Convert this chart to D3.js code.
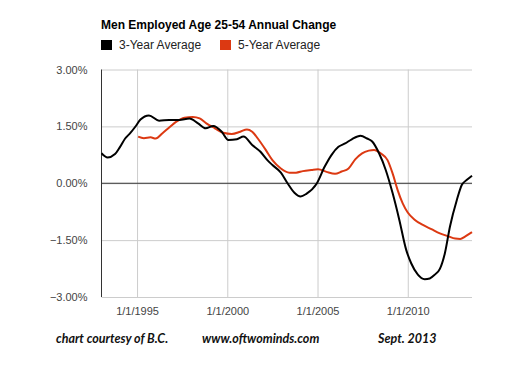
<!DOCTYPE html>
<html>
<head>
<meta charset="utf-8">
<script src="https://cdn.jsdelivr.net/npm/d3@7"></script>
<style>
  body { margin: 0; background: #fff; }
  svg { display: block; }
</style>
</head>
<body>
<div class="main"></div>
<script>
// Chart data (decimal years, % change)
const titleText = 'Men Employed Age 25-54 Annual Change';
const seriesNames = ['3-Year Average', '5-Year Average'];
const seriesColors = ['#000000', '#dc3912'];

const avg3Years = [1993.03, 1993.37, 1993.78, 1994.06, 1994.34, 1994.62, 1994.9, 1995.19, 1995.66, 1996.22,
  1996.78, 1997.34, 1997.9, 1998.38, 1998.8, 1999.22, 1999.69, 2000.06, 2000.53, 2000.9,
  2001.38, 2001.84, 2002.22, 2002.5, 2002.97, 2003.34, 2003.72, 2004.06, 2004.38, 2004.94,
  2005.4, 2005.78, 2006.16, 2006.53, 2006.9, 2007.38, 2007.75, 2008.03, 2008.41, 2008.78,
  2009.16, 2009.53, 2009.91, 2010.19, 2010.56, 2010.94, 2011.22, 2011.5, 2011.78, 2012.06,
  2012.34, 2012.72, 2013.0, 2013.28, 2013.56];
const avg3Values = [0.79, 0.68, 0.77, 0.96, 1.18, 1.32, 1.49, 1.68, 1.79, 1.65,
  1.67, 1.67, 1.71, 1.58, 1.45, 1.51, 1.36, 1.14, 1.16, 1.23,
  1.01, 0.83, 0.61, 0.48, 0.28, 0.0, -0.25, -0.35, -0.28, -0.02,
  0.44, 0.75, 0.96, 1.05, 1.16, 1.25, 1.18, 1.10, 0.79, 0.35,
  -0.26, -0.96, -1.75, -2.11, -2.41, -2.53, -2.51, -2.41, -2.26, -1.84,
  -1.14, -0.44, -0.04, 0.09, 0.20];

const avg5Years = [1995.06, 1995.38, 1995.75, 1996.03, 1996.41, 1996.78, 1997.16, 1997.63, 1998.09, 1998.47,
  1998.84, 1999.31, 1999.78, 2000.25, 2000.72, 2001.09, 2001.38, 2001.75, 2002.13, 2002.5,
  2002.97, 2003.44, 2003.81, 2004.19, 2004.66, 2005.03, 2005.5, 2005.97, 2006.34, 2006.72,
  2007.09, 2007.47, 2007.84, 2008.13, 2008.5, 2008.88, 2009.16, 2009.44, 2009.72, 2010.0,
  2010.38, 2010.84, 2011.31, 2011.78, 2012.25, 2012.63, 2012.91, 2013.19, 2013.56];
const avg5Values = [1.23, 1.19, 1.21, 1.18, 1.32, 1.47, 1.62, 1.73, 1.75, 1.71,
  1.58, 1.45, 1.33, 1.30, 1.36, 1.42, 1.36, 1.14, 0.88, 0.61,
  0.39, 0.28, 0.28, 0.32, 0.35, 0.37, 0.30, 0.25, 0.31, 0.39,
  0.63, 0.79, 0.86, 0.88, 0.79, 0.61, 0.26, -0.18, -0.53, -0.77,
  -0.96, -1.10, -1.21, -1.32, -1.40, -1.46, -1.47, -1.40, -1.29];

const yTicks = [-3, -1.5, 0, 1.5, 3];
const xTicks = [1995, 2000, 2005, 2010];
const footerTexts = ['chart courtesy of B.C.', 'www.oftwominds.com', 'Sept. 2013'];

// Layout
const width = 530;
const height = 371;
const margin = { top: 69.5, right: 58, bottom: 74, left: 101.5 };

const svg = d3.select('.main')
  .append('svg')
  .attr('width', width)
  .attr('height', height)
  .style('font-family', 'Arial, "Liberation Sans", sans-serif');

const x = d3.scaleLinear()
  .domain([1993.03, 2013.56])
  .range([margin.left, width - margin.right]);

const y = d3.scaleLinear()
  .domain([-3, 3])
  .range([height - margin.bottom, margin.top]);

// Horizontal gridlines + y labels
svg.append('g')
  .attr('transform', `translate(${margin.left}, 0)`)
  .call(d3.axisLeft(y)
    .tickValues(yTicks)
    .tickSize(-(width - margin.right - margin.left))
    .tickPadding(14)
    .tickFormat(d => d3.format('.2f')(d) + '%'))
  .call(g => g.select('.domain').remove())
  .call(g => g.selectAll('.tick line').attr('stroke', '#cccccc'))
  .call(g => g.selectAll('.tick text')
    .attr('fill', '#444')
    .style('font-size', '11px'));

// Vertical gridlines + x labels
svg.append('g')
  .attr('transform', `translate(0, ${height - margin.bottom})`)
  .call(d3.axisBottom(x)
    .tickValues(xTicks)
    .tickSize(-(height - margin.bottom - margin.top))
    .tickPadding(10)
    .tickFormat(d => '1/1/' + d))
  .call(g => g.select('.domain').remove())
  .call(g => g.selectAll('.tick line').attr('stroke', '#cccccc'))
  .call(g => g.selectAll('.tick text')
    .attr('fill', '#444')
    .style('font-size', '11px'));

// Zero line and left axis line
svg.append('line')
  .attr('x1', margin.left).attr('x2', width - margin.right)
  .attr('y1', y(0)).attr('y2', y(0))
  .attr('stroke', '#333').attr('stroke-width', 1);

svg.append('line')
  .attr('x1', margin.left).attr('x2', margin.left)
  .attr('y1', margin.top).attr('y2', height - margin.bottom)
  .attr('stroke', '#333').attr('stroke-width', 1);

// Lines
const line = d3.line()
  .x(d => x(d[0]))
  .y(d => y(d[1]))
  .curve(d3.curveMonotoneX);

const series = [
  d3.zip(avg5Years, avg5Values),
  d3.zip(avg3Years, avg3Values)
];
const colors = [seriesColors[1], seriesColors[0]];

svg.append('g')
  .selectAll('path')
  .data(series)
  .join('path')
  .attr('d', line)
  .attr('fill', 'none')
  .attr('stroke', (d, i) => colors[i])
  .attr('stroke-width', 2)
  .attr('stroke-linejoin', 'round');

// Title
svg.append('text')
  .attr('x', 101)
  .attr('y', 29)
  .style('font-size', '12px')
  .style('font-weight', 'bold')
  .attr('fill', '#000')
  .text(titleText);

// Legend
const legend = svg.append('g')
  .selectAll('g')
  .data(seriesNames)
  .join('g')
  .attr('transform', (d, i) => `translate(${i === 0 ? 101 : 220}, 40)`);

legend.append('rect')
  .attr('width', 11)
  .attr('height', 10)
  .attr('fill', (d, i) => seriesColors[i]);

legend.append('text')
  .attr('x', 18)
  .attr('y', 5)
  .attr('dy', '0.35em')
  .attr('fill', '#222')
  .style('font-size', '12px')
  .text(d => d);

// Footer
svg.append('g')
  .selectAll('text')
  .data(footerTexts)
  .join('text')
  .attr('x', (d, i) => [56, 202, 378][i])
  .attr('y', 343)
  .style('font-family', 'Lato, "Open Sans", sans-serif')
  .style('font-size', '12.5px')
  .style('font-style', 'italic')
  .style('font-weight', 'bold')
  .attr('fill', '#111')
  .text(d => d);
</script>
</body>
</html>
